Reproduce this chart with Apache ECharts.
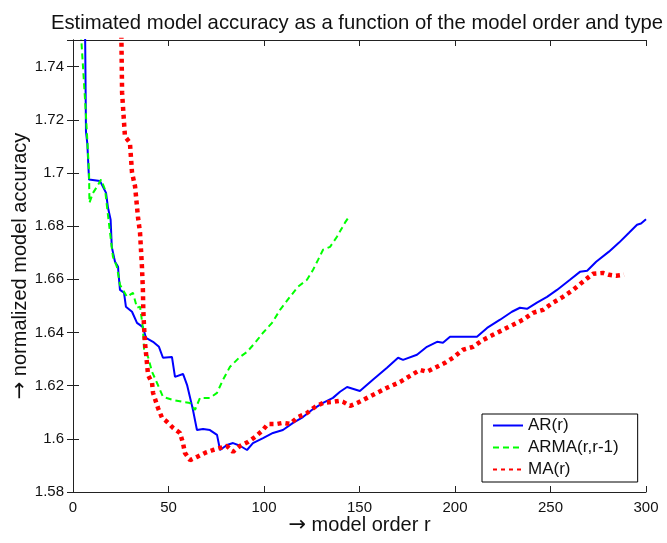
<!DOCTYPE html>
<html>
<head>
<meta charset="utf-8">
<script src="https://cdn.jsdelivr.net/npm/echarts@6/dist/echarts.min.js"></script>
<style>
  html, body { margin: 0; padding: 0; background: #fff; }
  #chart { width: 667px; height: 543px; }
</style>
</head>
<body>
<div id="chart"></div>
<script>
// model order r vs normalized accuracy
const arData = [
  [6.0, 1.78], [6.8, 1.7155], [7.5, 1.711], [8.4, 1.6975], [14.1, 1.697], [15.0, 1.6967],
  [17.3, 1.6925], [18.3, 1.687], [19.7, 1.6824], [20.3, 1.6722], [22.0, 1.6666], [23.6, 1.6647],
  [23.8, 1.6624], [24.6, 1.656], [26.7, 1.655], [27.7, 1.6497], [30.9, 1.6478], [33.5, 1.6436],
  [36.6, 1.642], [38.2, 1.638], [41.9, 1.6365], [45.0, 1.6346], [47.1, 1.6305], [51.8, 1.6308],
  [53.4, 1.6233], [57.6, 1.6244], [59.7, 1.6203], [62.8, 1.6109], [64.9, 1.6033], [68.1, 1.6037],
  [71.7, 1.6033], [75.4, 1.6015], [77.0, 1.5958], [80.6, 1.5977], [83.8, 1.5984], [87.4, 1.5974],
  [91.1, 1.5958], [94.2, 1.5984], [99.5, 1.6003], [104.7, 1.6022], [109.9, 1.6033], [115.2, 1.606],
  [120.4, 1.6082], [125.7, 1.6112], [130.9, 1.6135], [136.1, 1.6154], [139.8, 1.6177], [143.5, 1.6195],
  [150.2, 1.618], [157.0, 1.6222], [164.4, 1.6267], [170.2, 1.6305], [172.8, 1.6297], [180.1, 1.6316],
  [185.3, 1.6346], [190.6, 1.6365], [193.7, 1.6361], [197.4, 1.6384], [204.2, 1.6384], [211.5, 1.6384],
  [216.8, 1.6417], [223.6, 1.6448], [229.8, 1.6478], [234.0, 1.6493], [237.7, 1.6489], [242.9, 1.6512],
  [248.2, 1.6534], [253.4, 1.656], [260.2, 1.6598], [265.4, 1.6628], [269.2, 1.6632], [273.9, 1.6666],
  [280.6, 1.6704], [285.9, 1.6738], [291.1, 1.6775], [295.3, 1.6805], [297.4, 1.681], [300.0, 1.6826]
];

const armaData = [
  [3.5, 1.76], [6.3, 1.7276], [7.3, 1.715], [8.4, 1.7], [8.6, 1.6888], [10.5, 1.6925],
  [12.6, 1.6949], [14.7, 1.6975], [16.8, 1.6937], [17.8, 1.6873], [19.4, 1.6775], [20.9, 1.6685],
  [23.0, 1.6647], [24.6, 1.6579], [28.3, 1.6534], [31.4, 1.6549], [33.5, 1.6493], [35.1, 1.6497],
  [36.6, 1.6417], [37.2, 1.6335], [39.3, 1.6308], [41.4, 1.6252], [44.0, 1.621], [47.1, 1.6158],
  [52.4, 1.6146], [57.6, 1.6139], [61.3, 1.6135], [63.9, 1.6109], [66.5, 1.6154], [71.7, 1.6154],
  [75.4, 1.6173], [78.5, 1.6222], [82.2, 1.6271], [87.4, 1.6308], [91.1, 1.6327], [95.3, 1.6361],
  [99.5, 1.6399], [104.2, 1.6436], [108.4, 1.6485], [113.6, 1.6534], [117.8, 1.6572], [122.5, 1.6598],
  [125.7, 1.6636], [128.3, 1.6673], [130.9, 1.6711], [134.6, 1.6722], [138.2, 1.676], [140.9, 1.6794],
  [142.4, 1.6813], [144.5, 1.6835]
];

const maData = [
  [25.0, 1.77], [25.7, 1.7302], [27.2, 1.7137], [29.8, 1.7114], [30.9, 1.7001], [32.5, 1.6949],
  [34.0, 1.6835], [35.1, 1.6775], [36.1, 1.6647], [36.6, 1.656], [36.8, 1.6485], [37.2, 1.6421],
  [37.7, 1.6361], [38.7, 1.6286], [39.3, 1.624], [41.4, 1.621], [41.9, 1.6173], [44.5, 1.6116],
  [46.6, 1.6079], [49.2, 1.6064], [52.4, 1.6041], [56.0, 1.6022], [57.6, 1.5984], [58.6, 1.5947],
  [61.3, 1.592], [64.9, 1.5932], [69.1, 1.5947], [73.3, 1.5958], [80.6, 1.5973], [83.8, 1.5951],
  [87.4, 1.5973], [91.6, 1.5988], [95.3, 1.6007], [99.0, 1.603], [102.1, 1.6056], [106.8, 1.6056],
  [109.9, 1.606], [113.6, 1.6056], [117.8, 1.6082], [122.5, 1.6097], [126.7, 1.612], [130.9, 1.6135],
  [136.1, 1.6139], [139.8, 1.6143], [141.4, 1.6139], [145.1, 1.6124], [148.8, 1.6135], [154.0, 1.6154],
  [159.2, 1.6173], [164.4, 1.6192], [171.3, 1.6214], [176.5, 1.6237], [181.7, 1.6259], [185.3, 1.6252],
  [190.6, 1.6271], [194.8, 1.6286], [199.0, 1.6305], [204.2, 1.6335], [209.4, 1.6346], [214.7, 1.6372],
  [219.9, 1.6391], [225.1, 1.641], [230.4, 1.6429], [235.6, 1.6448], [240.8, 1.6474], [246.1, 1.6485],
  [251.3, 1.6512], [256.5, 1.6534], [261.8, 1.656], [267.0, 1.6591], [272.3, 1.6621], [277.5, 1.6624],
  [280.6, 1.6617], [284.3, 1.6613], [288.5, 1.6617]
];

const seriesNames = ['AR(r)', 'ARMA(r,r-1)', 'MA(r)'];
const xRange = [0, 300, 50];
const yRange = [1.58, 1.75, 0.02];

const font = '"Liberation Sans", Arial, sans-serif';

const chart = echarts.init(document.getElementById('chart'));

function frameAxis(pos, range, withLabels) {
  return {
    type: 'value',
    position: pos,
    min: range[0],
    max: range[1],
    interval: range[2],
    splitLine: { show: false },
    axisLine: { show: true, lineStyle: { color: '#222', width: 1 } },
    axisTick: { show: true, inside: true, length: 6, lineStyle: { color: '#222' } },
    axisLabel: {
      show: withLabels,
      showMaxLabel: pos !== 'left',
      color: '#111',
      fontFamily: font,
      fontSize: 15,
      margin: pos === 'left' ? 9 : 8
    }
  };
}

// axis titles with a wide arrow glyph in front
const nameStyle = {
  color: '#111',
  fontFamily: font,
  fontSize: 20,
  rich: { arr: { fontFamily: '"DejaVu Sans"', fontSize: 21, color: '#111' } }
};

const xBottom = frameAxis('bottom', xRange, true);
xBottom.name = '{arr|\u2192} model order r';
xBottom.nameLocation = 'middle';
xBottom.nameGap = 23;
xBottom.nameMoveOverlap = false;
xBottom.nameTextStyle = nameStyle;

const yLeft = frameAxis('left', yRange, true);
yLeft.name = '{arr|\u2192} normalized model accuracy';
yLeft.nameLocation = 'middle';
yLeft.nameGap = 42;
yLeft.nameMoveOverlap = false;
yLeft.nameTextStyle = nameStyle;

chart.setOption({
  backgroundColor: '#fff',
  animation: false,
  title: {
    text: 'Estimated model accuracy as a function of the model order and type',
    left: 352,
    textAlign: 'center',
    top: 8,
    textStyle: { color: '#111', fontFamily: font, fontSize: 20.3, fontWeight: 'normal', lineHeight: 20 }
  },
  grid: { left: 73, right: 21, top: 40, bottom: 51, outerBoundsMode: 'none', containLabel: false },
  legend: {
    orient: 'vertical',
    left: 482,
    top: 414,
    padding: [3, 19, 4, 10],
    itemGap: 5,
    itemWidth: 30,
    itemHeight: 6,
    itemStyle: { opacity: 0 },
    backgroundColor: '#fff',
    borderColor: '#000',
    borderWidth: 1,
    borderRadius: 0,
    textStyle: { color: '#111', fontFamily: font, fontSize: 17 },
    data: seriesNames
  },
  xAxis: [xBottom, frameAxis('top', xRange, false)],
  yAxis: [yLeft, frameAxis('right', yRange, false)],
  series: [
    {
      name: seriesNames[0],
      type: 'line',
      data: arData,
      showSymbol: false,
      symbol: 'none',
      lineStyle: { color: '#0000ff', width: 2 },
      itemStyle: { color: '#0000ff' }
    },
    {
      name: seriesNames[1],
      type: 'line',
      data: armaData,
      showSymbol: false,
      symbol: 'none',
      lineStyle: { color: '#00ff00', width: 2, type: [6, 4] },
      itemStyle: { color: '#00ff00' }
    },
    {
      name: seriesNames[2],
      type: 'line',
      data: maData,
      showSymbol: false,
      symbol: 'none',
      lineStyle: { color: '#ff0000', width: 4.5, type: [4, 4], cap: 'butt' },
      itemStyle: { color: '#ff0000' }
    }
  ]
});
</script>
</body>
</html>
